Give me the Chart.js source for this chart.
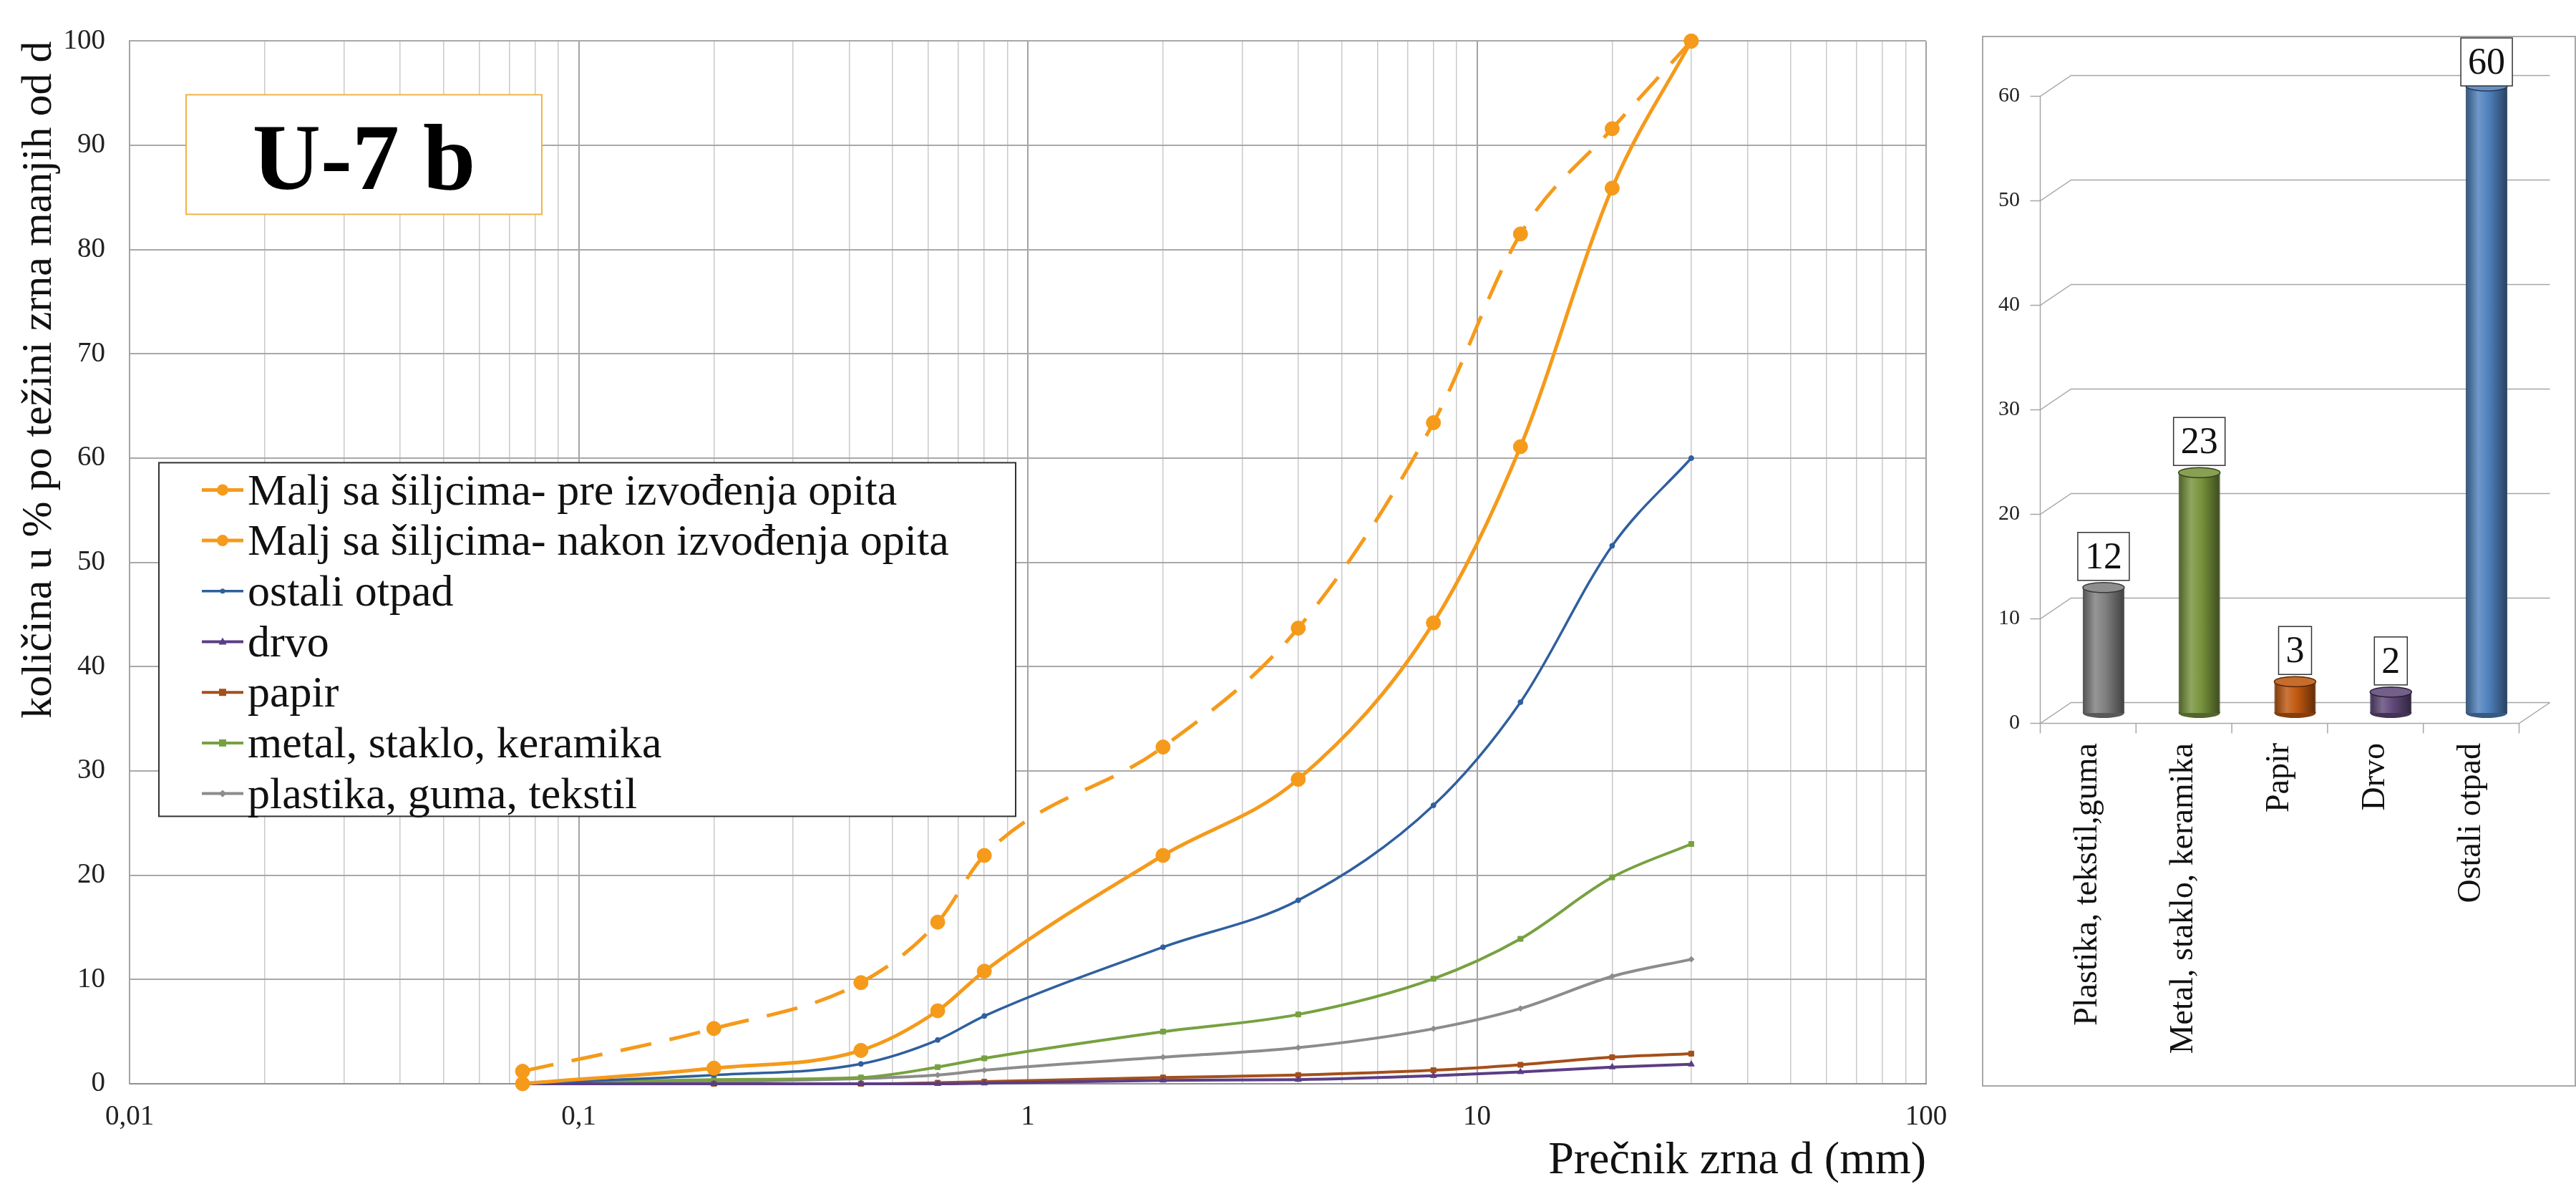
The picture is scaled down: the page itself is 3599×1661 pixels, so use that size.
<!DOCTYPE html>
<html>
<head>
<meta charset="utf-8">
<title>U-7 b</title>
<script src="https://cdn.jsdelivr.net/npm/chart.js@4.4.1/dist/chart.umd.min.js"></script>
<style>
  html, body { margin: 0; padding: 0; background: #fff; }
  body { width: 3599px; height: 1661px; position: relative; overflow: hidden; }
  #curveWrap { position: absolute; left: 0; top: 0; width: 2760px; height: 1661px; }
  #barWrap { position: absolute; left: 2770px; top: 51px; width: 827px; height: 1465px; }
  #barFrame { position: absolute; left: 2769px; top: 50px; width: 826px; height: 1464px;
              border: 2px solid #a8a8a8; pointer-events: none; }
</style>
</head>
<body>
<div id="curveWrap"><canvas id="curveChart"></canvas></div>
<div id="barWrap"><canvas id="barChart"></canvas></div>
<div id="barFrame"></div>
<script>
// grain size distribution (sieve sizes in mm, % passing)
const sieveSizes = [0.075, 0.2, 0.425, 0.63, 0.8, 2, 4, 8, 12.5, 20, 30];
const beforeTest = [0, 1.5, 3.2, 7.0, 10.8, 21.9, 29.2, 44.2, 61.1, 85.9, 100];
const afterTest = [1.2, 5.3, 9.7, 15.5, 21.9, 32.3, 43.7, 63.4, 81.5, 91.6, 100];
const ostaliOtpad = [0, 0.84, 1.9, 4.2, 6.5, 13.1, 17.6, 26.7, 36.6, 51.6, 60];
const drvo = [0, 0, 0, 0, 0.05, 0.33, 0.4, 0.77, 1.14, 1.6, 1.87];
const papir = [0, 0, 0, 0.1, 0.2, 0.6, 0.84, 1.3, 1.82, 2.55, 2.89];
const metal = [0, 0.4, 0.6, 1.6, 2.44, 5.0, 6.65, 10.07, 13.9, 19.8, 23.0];
const plastika = [0, 0.2, 0.5, 0.84, 1.3, 2.55, 3.46, 5.28, 7.22, 10.3, 11.94];

const decadeValues = [0.01, 0.1, 1, 10, 100];
const decadeLabels = ['0,01', '0,1', '1', '10', '100'];
const gridMultipliers = [1, 2, 3, 4, 5, 6, 7, 8, 9];

// composition bar chart
const barCategories = ['Plastika, tekstil,guma', 'Metal, staklo, keramika', 'Papir', 'Drvo', 'Ostali otpad'];
const barValues = [12, 23, 3, 2, 60];
const barColors = ['#7f7f7f', '#77933c', '#c0580f', '#60497a', '#4f81bd'];

const serif = '"Liberation Serif", "DejaVu Serif", serif';
const ORANGE = '#f59a1b';

// all grid positions of the log axis: 1..9 x each decade, plus the last decade
const gridValues = [];
decadeValues.slice(0, -1).forEach(d => {
    gridMultipliers.forEach(m => gridValues.push(Number((d * m).toPrecision(3))));
});
gridValues.push(decadeValues[decadeValues.length - 1]);

function isDecade(v) {
    return decadeValues.some(d => Math.abs(d - v) < d * 1e-6);
}

function series(label, values, color, extra) {
    return Object.assign({
        label: label,
        data: sieveSizes.map((x, i) => ({ x: x, y: values[i] })),
        borderColor: color,
        backgroundColor: color,
        pointBackgroundColor: color,
        pointBorderColor: color,
        borderWidth: 4,
        pointRadius: 4,
        pointBorderWidth: 1,
        pointStyle: 'circle',
        cubicInterpolationMode: 'monotone',
        clip: false,
        fill: false
    }, extra || {});
}

function drawMarker(ctx, style, x, y, r) {
    ctx.beginPath();
    if (style === 'rect') {
        ctx.rect(x - r, y - r, 2 * r, 2 * r);
    } else if (style === 'rectRot') {
        ctx.moveTo(x, y - r * 1.3); ctx.lineTo(x + r * 1.3, y);
        ctx.lineTo(x, y + r * 1.3); ctx.lineTo(x - r * 1.3, y); ctx.closePath();
    } else if (style === 'triangle') {
        ctx.moveTo(x, y - r * 1.2); ctx.lineTo(x + r * 1.1, y + r * 0.8);
        ctx.lineTo(x - r * 1.1, y + r * 0.8); ctx.closePath();
    } else {
        ctx.arc(x, y, r, 0, Math.PI * 2);
    }
    ctx.fill();
}

// boxed legend and sample label drawn inside the plot
const boxedLegend = {
    id: 'boxedLegend',
    afterDraw(chart) {
        const ctx = chart.ctx;
        const a = chart.chartArea;
        ctx.save();

        // sample name box
        const tx = a.left + 79, ty = a.top + 75, tw = 497, th = 167;
        ctx.fillStyle = '#fff';
        ctx.fillRect(tx, ty, tw, th);
        ctx.strokeStyle = '#f0b445';
        ctx.lineWidth = 2;
        ctx.strokeRect(tx, ty, tw, th);
        ctx.fillStyle = '#000';
        ctx.font = 'bold 132px ' + serif;
        ctx.textAlign = 'center';
        ctx.textBaseline = 'alphabetic';
        ctx.fillText('U-7 b', tx + tw / 2, ty + 132);

        // legend box
        const lx = a.left + 41, ly = a.top + 589, lw = 1197, lh = 494;
        ctx.fillStyle = '#fff';
        ctx.fillRect(lx, ly, lw, lh);
        ctx.strokeStyle = '#333';
        ctx.lineWidth = 2;
        ctx.strokeRect(lx, ly, lw, lh);
        ctx.font = '62px ' + serif;
        ctx.textAlign = 'left';
        ctx.textBaseline = 'middle';
        chart.data.datasets.forEach((ds, i) => {
            const cy = ly + 38 + i * 70.7;
            ctx.strokeStyle = ds.borderColor;
            ctx.lineWidth = ds.borderWidth;
            ctx.setLineDash([]);
            ctx.beginPath();
            ctx.moveTo(lx + 60, cy);
            ctx.lineTo(lx + 118, cy);
            ctx.stroke();
            ctx.fillStyle = ds.pointBackgroundColor;
            drawMarker(ctx, ds.pointStyle, lx + 89, cy, Math.min(ds.pointRadius, 8));
            ctx.fillStyle = '#111';
            ctx.fillText(ds.label, lx + 124, cy + 4);
        });
        ctx.restore();
    }
};

new Chart(document.getElementById('curveChart'), {
    type: 'line',
    data: {
        datasets: [
            series('Malj sa šiljcima- pre izvođenja opita', beforeTest, ORANGE,
                { borderWidth: 5, pointRadius: 10 }),
            series('Malj sa šiljcima- nakon izvođenja opita', afterTest, ORANGE,
                { borderWidth: 5, pointRadius: 10, borderDash: [44, 26] }),
            series('ostali otpad', ostaliOtpad, '#2f5f9e', { borderWidth: 3.5, pointRadius: 3.5 }),
            series('drvo', drvo, '#5b3d86', { pointStyle: 'triangle', pointRadius: 5 }),
            series('papir', papir, '#a4501a', { pointStyle: 'rect', pointRadius: 5 }),
            series('metal, staklo, keramika', metal, '#77a140', { pointStyle: 'rect', pointRadius: 5 }),
            series('plastika, guma, tekstil', plastika, '#8c8c8c', { pointStyle: 'rectRot', pointRadius: 4 })
        ]
    },
    options: {
        responsive: true,
        maintainAspectRatio: false,
        animation: false,
        layout: { padding: { top: 51, right: 69, bottom: 0, left: 0 } },
        plugins: {
            legend: { display: false },
            tooltip: { enabled: false }
        },
        scales: {
            x: {
                type: 'logarithmic',
                min: 0.01,
                max: 100,
                afterBuildTicks: scale => {
                    scale.ticks = gridValues.map(v => ({ value: v }));
                },
                afterFit: scale => { scale.height = 147; },
                ticks: {
                    autoSkip: false,
                    maxRotation: 0,
                    padding: 23,
                    color: '#222',
                    font: { family: serif, size: 39 },
                    callback: value => {
                        const i = decadeValues.findIndex(d => Math.abs(d - value) < d * 1e-6);
                        return i >= 0 ? decadeLabels[i] : '';
                    }
                },
                grid: {
                    drawTicks: false,
                    color: c => (c.tick && isDecade(c.tick.value)) ? '#a3a3a3' : '#cacaca',
                    lineWidth: c => (c.tick && isDecade(c.tick.value)) ? 2 : 1.5
                },
                border: { display: true, color: '#8f8f8f', width: 2 },
                title: {
                    display: true,
                    text: 'Prečnik zrna d (mm)',
                    align: 'end',
                    color: '#111',
                    padding: { top: 0, bottom: 0 },
                    font: { family: serif, size: 64 }
                }
            },
            y: {
                min: 0,
                max: 100,
                afterFit: scale => { scale.width = 181; },
                ticks: {
                    stepSize: 10,
                    padding: 34,
                    color: '#222',
                    font: { family: serif, size: 39 }
                },
                grid: { drawTicks: false, color: '#a8a8a8', lineWidth: 2 },
                border: { display: true, color: '#a3a3a3', width: 2 },
                title: {
                    display: true,
                    text: 'količina u % po težini zrna manjih od d',
                    align: 'end',
                    color: '#111',
                    padding: { top: 19, bottom: 0 },
                    font: { family: serif, size: 60 }
                }
            }
        }
    },
    plugins: [boxedLegend]
});

// ---- right chart: 3D-looking cylinders ----
const DEPTH_X = 21.5, DEPTH_Y = 14.5;
const BAR_RATIO = 0.434;

function shade(hex, amt) {
    const n = parseInt(hex.slice(1), 16);
    const ch = [(n >> 16) & 255, (n >> 8) & 255, n & 255].map(c =>
        Math.max(0, Math.min(255, Math.round(amt < 0 ? c * (1 + amt) : c + (255 - c) * amt))));
    return 'rgb(' + ch.join(',') + ')';
}

function cylinderFill(c) {
    const chart = c.chart;
    const xs = chart.scales.x;
    const base = barColors[c.dataIndex];
    if (!xs || !chart.chartArea) return base;
    const cx = xs.getPixelForValue(c.dataIndex);
    const half = xs.width / barCategories.length * BAR_RATIO / 2;
    const g = chart.ctx.createLinearGradient(cx - half, 0, cx + half, 0);
    g.addColorStop(0, shade(base, -0.35));
    g.addColorStop(0.3, shade(base, 0.18));
    g.addColorStop(0.55, base);
    g.addColorStop(1, shade(base, -0.5));
    return g;
}

const wall3d = {
    id: 'wall3d',
    beforeDatasetsDraw(chart) {
        const ctx = chart.ctx, a = chart.chartArea, ys = chart.scales.y;
        const fx = a.left - DEPTH_X, bx = a.left + DEPTH_X;
        ctx.save();
        ctx.strokeStyle = '#a6a6a6';
        ctx.lineWidth = 1.5;
        ys.ticks.forEach(t => {
            const py = ys.getPixelForValue(t.value);
            ctx.beginPath();
            ctx.moveTo(fx - 14, py + DEPTH_Y);
            ctx.lineTo(fx, py + DEPTH_Y);
            ctx.lineTo(bx, py - DEPTH_Y);
            ctx.lineTo(a.right + DEPTH_X, py - DEPTH_Y);
            ctx.stroke();
        });
        const f0 = ys.getPixelForValue(ys.min) + DEPTH_Y;
        const fTop = ys.getPixelForValue(ys.max) + DEPTH_Y;
        ctx.beginPath();
        ctx.moveTo(fx, fTop);
        ctx.lineTo(fx, f0);
        ctx.lineTo(a.right - DEPTH_X, f0);
        ctx.lineTo(a.right + DEPTH_X, f0 - 2 * DEPTH_Y);
        ctx.stroke();
        const n = chart.data.labels.length, step = a.width / n;
        for (let i = 0; i <= n; i++) {
            ctx.beginPath();
            ctx.moveTo(fx + i * step, f0);
            ctx.lineTo(fx + i * step, f0 + 14);
            ctx.stroke();
        }
        // bottom caps of the cylinders
        chart.getDatasetMeta(0).data.forEach((el, i) => {
            ctx.fillStyle = shade(barColors[i], -0.3);
            ctx.beginPath();
            ctx.ellipse(el.x, el.base, el.width / 2, 7, 0, 0, Math.PI * 2);
            ctx.fill();
        });
        ctx.restore();
    },
    afterDatasetsDraw(chart) {
        const ctx = chart.ctx;
        ctx.save();
        chart.getDatasetMeta(0).data.forEach((el, i) => {
            // top cap
            ctx.fillStyle = shade(barColors[i], 0.12);
            ctx.strokeStyle = shade(barColors[i], -0.55);
            ctx.lineWidth = 1.5;
            ctx.beginPath();
            ctx.ellipse(el.x, el.y, el.width / 2, 7, 0, 0, Math.PI * 2);
            ctx.fill();
            ctx.stroke();

            // value box
            const txt = String(barValues[i]);
            ctx.font = '52px ' + serif;
            const bw = ctx.measureText(txt).width + 20, bh = 67;
            let by = el.y - 10 - bh;
            if (by < 2) by = 2;
            ctx.fillStyle = '#fff';
            ctx.fillRect(el.x - bw / 2, by, bw, bh);
            ctx.strokeStyle = '#333';
            ctx.lineWidth = 1.5;
            ctx.strokeRect(el.x - bw / 2, by, bw, bh);
            ctx.fillStyle = '#111';
            ctx.textAlign = 'center';
            ctx.textBaseline = 'middle';
            ctx.fillText(txt, el.x, by + bh / 2 + 3);
        });
        ctx.restore();
    }
};

new Chart(document.getElementById('barChart'), {
    type: 'bar',
    data: {
        labels: barCategories,
        datasets: [{
            data: barValues,
            backgroundColor: cylinderFill,
            borderColor: barColors.map(c => shade(c, -0.5)),
            borderWidth: 1,
            barPercentage: BAR_RATIO,
            categoryPercentage: 1
        }]
    },
    options: {
        responsive: true,
        maintainAspectRatio: false,
        animation: false,
        layout: { padding: { top: 69, right: 56, bottom: 0, left: 0 } },
        plugins: {
            legend: { display: false },
            tooltip: { enabled: false }
        },
        scales: {
            x: {
                afterFit: scale => { scale.height = 520; },
                grid: { display: false, drawTicks: false },
                border: { display: false },
                ticks: {
                    autoSkip: false,
                    minRotation: 90,
                    maxRotation: 90,
                    labelOffset: -DEPTH_X,
                    padding: 42,
                    color: '#111',
                    font: { family: serif, size: 46 }
                }
            },
            y: {
                min: 0,
                max: 60,
                afterFit: scale => { scale.width = 102; },
                grid: { display: false, drawTicks: false },
                border: { display: false },
                ticks: {
                    stepSize: 10,
                    padding: 50,
                    labelOffset: DEPTH_Y,
                    color: '#222',
                    font: { family: serif, size: 30 }
                }
            }
        }
    },
    plugins: [wall3d]
});
</script>
</body>
</html>
